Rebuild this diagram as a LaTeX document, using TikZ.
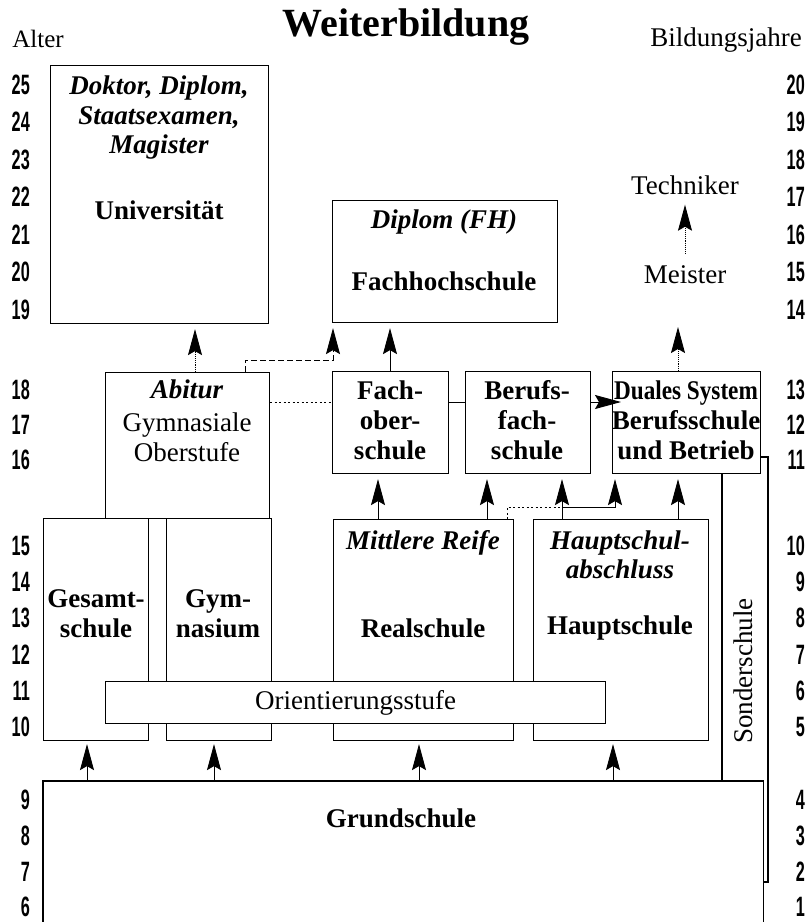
\documentclass[tikz,border=0pt]{standalone}
\usepackage{fontspec}
\setmainfont{Liberation Serif}
\newfontfamily\numfont[FakeStretch=0.58]{Liberation Sans}
\usetikzlibrary{arrows.meta}
\begin{document}
\begin{tikzpicture}[x=1pt,y=-1pt,
  box/.style={draw, line width=1.1pt, fill=white, anchor=north west, inner sep=0pt},
  lab/.style={font=\fontsize{27}{30}\selectfont\bfseries, align=center, inner sep=0pt},
  labit/.style={font=\fontsize{27}{29.5}\selectfont\bfseries\itshape, align=center, inner sep=0pt},
  labrm/.style={font=\fontsize{27}{30}\selectfont, align=center, inner sep=0pt},
  num/.style={font=\numfont\bfseries\fontsize{28}{28}\selectfont, inner sep=0pt, anchor=east},
  arr/.style={line width=0.9pt, -{Stealth[length=26pt,width=14pt,inset=4pt]}, shorten >=5pt},
  conn/.style={line width=0.9pt},
  dots/.style={line width=0.8pt, dash pattern=on 2pt off 2.5pt},
  dashd/.style={line width=0.9pt, dash pattern=on 6pt off 3pt}
]
\useasboundingbox (0,0) rectangle (808,922);

% header
\node[font=\fontsize{40}{44}\selectfont\bfseries, inner sep=0pt] (title) at (406,27) {Weiterbildung};
\node[font=\fontsize{25}{28}\selectfont, inner sep=0pt] (alter) at (38,39) {Alter};
\node[font=\fontsize{27}{30}\selectfont, inner sep=0pt] (bj) at (726,40) {Bildungsjahre};

% numbers
\foreach \a/\b/\y in {25/20/85,24/19/122,23/18/160,22/17/197,21/16/235,20/15/272,19/14/310,
  18/13/390,17/12/425,16/11/460,
  15/10/546,14/9/582,13/8/618,12/7/655,11/6/691,10/5/727,
  9/4/800,8/3/836,7/2/872,6/1/907}{
  \node[num] (l\a) at (30,\y) {\a};
  \node[num] (r\b) at (805,\y) {\b};
}

% boxes
\node[box, minimum width=218pt, minimum height=258pt] (univ) at (50,65) {};
\node[box, minimum width=225pt, minimum height=122pt] (fh) at (332,200) {};
\node[box, minimum width=164pt, minimum height=146pt] (abitur) at (105,372) {};
\node[box, minimum width=116pt, minimum height=102pt] (fos) at (332,371) {};
\node[box, minimum width=125pt, minimum height=102pt] (bfs) at (465,371) {};
\node[box, minimum width=148pt, minimum height=102pt] (duales) at (612,371) {};
\node[box, minimum width=105pt, minimum height=222pt] (gesamt) at (43,518) {};
\node[box, minimum width=105pt, minimum height=222pt] (gym) at (166,518) {};
\node[box, minimum width=180pt, minimum height=221pt] (real) at (333,519) {};
\node[box, minimum width=175pt, minimum height=221pt] (haupt) at (533,519) {};
\node[box, minimum width=500pt, minimum height=42pt, font=\fontsize{27}{30}\selectfont] (orient) at (105,681) {Orientierungsstufe};
\node[anchor=north west, inner sep=0pt, minimum width=720pt, minimum height=150pt] (grund) at (43,781) {};
\draw[line width=1.1pt] (grund.south west) -- (grund.north west) -- (grund.north east) -- (grund.south east);

% box texts
\node[labit] (doktor) at (159,118) {Doktor, Diplom,\\Staatsexamen,\\Magister};
\node[lab] (unitx) at (159,210) {Universit\"at};
\node[labit] (diplfh) at (444,222) {Diplom (FH)};
\node[lab] (fhtx) at (444,281) {Fachhochschule};
\node[labrm] (techniker) at (685,185) {Techniker};
\node[labrm] (meister) at (685,275) {Meister};
\node[labit] (abitx) at (187,389) {Abitur};
\node[labrm] (gymo) at (187,437) {Gymnasiale\\Oberstufe};
\node[lab] (fostx) at (390,420) {Fach-\\ober-\\schule};
\node[lab] (bfstx) at (527,420) {Berufs-\\fach-\\schule};
\node[lab] (dualtx) at (686,420) {\scalebox{0.86}[1]{Duales System}\\Berufsschule\\und Betrieb};
\node[lab] (gestx) at (96,614) {Gesamt-\\schule};
\node[lab] (gymtx) at (218,614) {Gym-\\nasium};
\node[labit] (mr) at (423,543) {Mittlere Reife};
\node[lab] (realtx) at (423,628) {Realschule};
\node[labit] (hsa) at (620,555) {Hauptschul-\\abschluss};
\node[lab] (haupttx) at (620,628) {Hauptschule};
\node[lab] (grundtx) at (401,818) {Grundschule};
\node[labrm, rotate=90] (sonder) at (743,671) {Sonderschule};

% helper coordinates
\coordinate (c195) at (195,0);
\coordinate (b1) at (245,360);
\coordinate (b2) at (333,360);
\coordinate (c378) at (378,0);
\coordinate (c390) at (390,0);
\coordinate (c487) at (487,0);
\coordinate (c507) at (507,507);
\coordinate (c562) at (562,507);
\coordinate (c615) at (615,507);
\coordinate (c678) at (678,322);
\coordinate (c87) at (87,0);
\coordinate (c214) at (214,0);
\coordinate (c419) at (419,0);
\coordinate (c613) at (613,0);
\coordinate (y402) at (0,402);
\coordinate (s1) at (722,0);
\coordinate (s2) at (768,457);
\coordinate (s3) at (768,882);

% upper arrows
\draw[arr, densely dotted] (abitur.north -| c195) -- (univ.south -| c195);
\draw[arr, dashd] (abitur.north -| b1) -- (b1) -- (b2) -- (fh.south -| b2);
\draw[arr] (fos.north -| c390) -- (fh.south -| c390);
\draw[arr, densely dotted] (duales.north -| c678) -- (c678);
\draw[arr, densely dotted, shorten <=12pt, shorten >=10pt] (meister.north) -- (techniker.south);

% row 2 horizontal links
\draw[dots] (abitur.east |- y402) -- (fos.west |- y402);
\draw[conn] (fos.east |- y402) -- (bfs.west |- y402);
\draw[arr, shorten >=-9pt] (bfs.east |- y402) -- (duales.west |- y402);

% row 3 to row 2
\draw[arr] (real.north -| c378) -- (fos.south -| c378);
\draw[arr] (real.north -| c487) -- (bfs.south -| c487);
\draw[arr] (haupt.north -| c562) -- (bfs.south -| c562);
\draw[dots] (real.north -| c507) -- (c507) -- (c562);
\draw[arr] (c562) -- (c615) -- (duales.south -| c615);
\draw[arr] (haupt.north -| c678) -- (duales.south -| c678);

% row 4 to row 3
\draw[arr, shorten >=3pt] (grund.north -| c87) -- (gesamt.south -| c87);
\draw[arr, shorten >=3pt] (grund.north -| c214) -- (gym.south -| c214);
\draw[arr, shorten >=3pt] (grund.north -| c419) -- (real.south -| c419);
\draw[arr, shorten >=3pt] (grund.north -| c613) -- (haupt.south -| c613);

% Sonderschule
\draw[line width=1.1pt] (duales.south -| s1) -- (grund.north -| s1);
\draw[line width=1.1pt] (duales.east |- s2) -- (s2) -- (s3) -- (grund.east |- s3);
\end{tikzpicture}
\end{document}
